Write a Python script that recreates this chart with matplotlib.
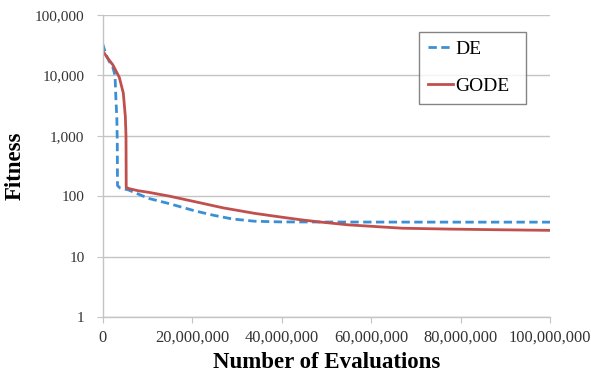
import numpy as np  # type: ignore

import matplotlib as mp  # type: ignore
mp.use("Agg")
from matplotlib import pyplot as plt  # type: ignore
import matplotlib.ticker as mticker  # type: ignore

# values
de_evals = [0, 0.8e6, 1.5e6, 2.3e6, 2.8e6, 3.0e6, 3.2e6, 3.3e6, 3.35e6, 3.9e6,
            5.8e6, 10.3e6, 15e6, 20.7e6, 25e6, 29e6, 34e6, 40e6, 60e6, 80e6, 100e6]
de_fitness = [34000, 22000, 17000, 13700, 10000, 4000, 2000, 800, 150, 137,
              127, 92, 75, 57, 48, 42, 38.5, 37.5, 37.3, 37.2, 37.2]

gode_evals = [0, 1.0e6, 2.3e6, 3.75e6, 4.65e6, 5.1e6, 5.25e6, 5.3e6, 6e6, 8e6,
              10.3e6, 15e6, 20.7e6, 27e6, 34e6, 40e6, 44e6, 48e6, 55e6, 67e6,
              78e6, 89e6, 100e6]
gode_fitness = [26000, 20000, 15000, 9300, 5100, 2100, 1000, 139, 133, 123,
                116, 100, 81, 64, 52, 45, 41, 37.8, 33.5, 29.5,
                28.5, 27.8, 27.2]

x_ticks = [0, 20e6, 40e6, 60e6, 80e6, 100e6]
y_ticks = [1, 10, 100, 1000, 10000, 100000]

plt.rcParams['font.family'] = ['Liberation Serif', 'DejaVu Serif']

de_color = "#3b8fd4"
gode_color = "#c0504d"
grid_color = "#c4c4c4"
text_color = "#333333"

fig = plt.figure(figsize=(5.91, 3.81), dpi=100)
ax = fig.add_axes([102.5 / 591, 1 - 317 / 381, 447.5 / 591, 302 / 381])

ax.plot(de_evals, de_fitness, color=de_color, linewidth=2.0,
        dashes=(3.0, 1.6), label="DE")
ax.plot(gode_evals, gode_fitness, color=gode_color, linewidth=2.0,
        label="GODE")

ax.set_yscale('log')
ax.set_ylim(1, 100000)
ax.set_xlim(0, 100e6)
ax.set_yticks(y_ticks)
ax.set_xticks(x_ticks)
ax.yaxis.set_minor_locator(mticker.NullLocator())
ax.xaxis.set_minor_locator(mticker.NullLocator())
fmt = mticker.FuncFormatter(lambda v, p: format(int(round(v)), ','))
ax.yaxis.set_major_formatter(fmt)
ax.xaxis.set_major_formatter(fmt)

ax.grid(axis='y', color=grid_color, linewidth=1.0)
ax.set_axisbelow(True)
for side in ['top', 'right']:
    ax.spines[side].set_visible(False)
for side in ['left', 'bottom']:
    ax.spines[side].set_color(grid_color)
    ax.spines[side].set_linewidth(1.0)

ax.tick_params(axis='y', length=4, color=grid_color, pad=9,
               labelsize=11, labelcolor=text_color)
ax.tick_params(axis='x', length=4, color=grid_color, pad=5,
               labelsize=11.8, labelcolor=text_color)

ax.set_ylabel("Fitness", fontsize=16.5, fontweight='bold')
ax.set_xlabel("Number of Evaluations", fontsize=16.5, fontweight='bold')
ax.yaxis.set_label_coords(-0.172, 0.5)
ax.xaxis.set_label_coords(0.5, -0.115)

leg = ax.legend(loc='upper left',
                bbox_to_anchor=(316.5 / 447.5, 1 - 16.7 / 302, 107 / 447.5, 0.0),
                mode='expand', fontsize=14, frameon=True, fancybox=False,
                handlelength=1.3, handletextpad=0.1, labelspacing=1.0,
                borderpad=0.45, borderaxespad=0)
leg.get_frame().set_edgecolor("#666666")
leg.get_frame().set_linewidth(1.0)

fig.savefig("out.png", dpi=100)
